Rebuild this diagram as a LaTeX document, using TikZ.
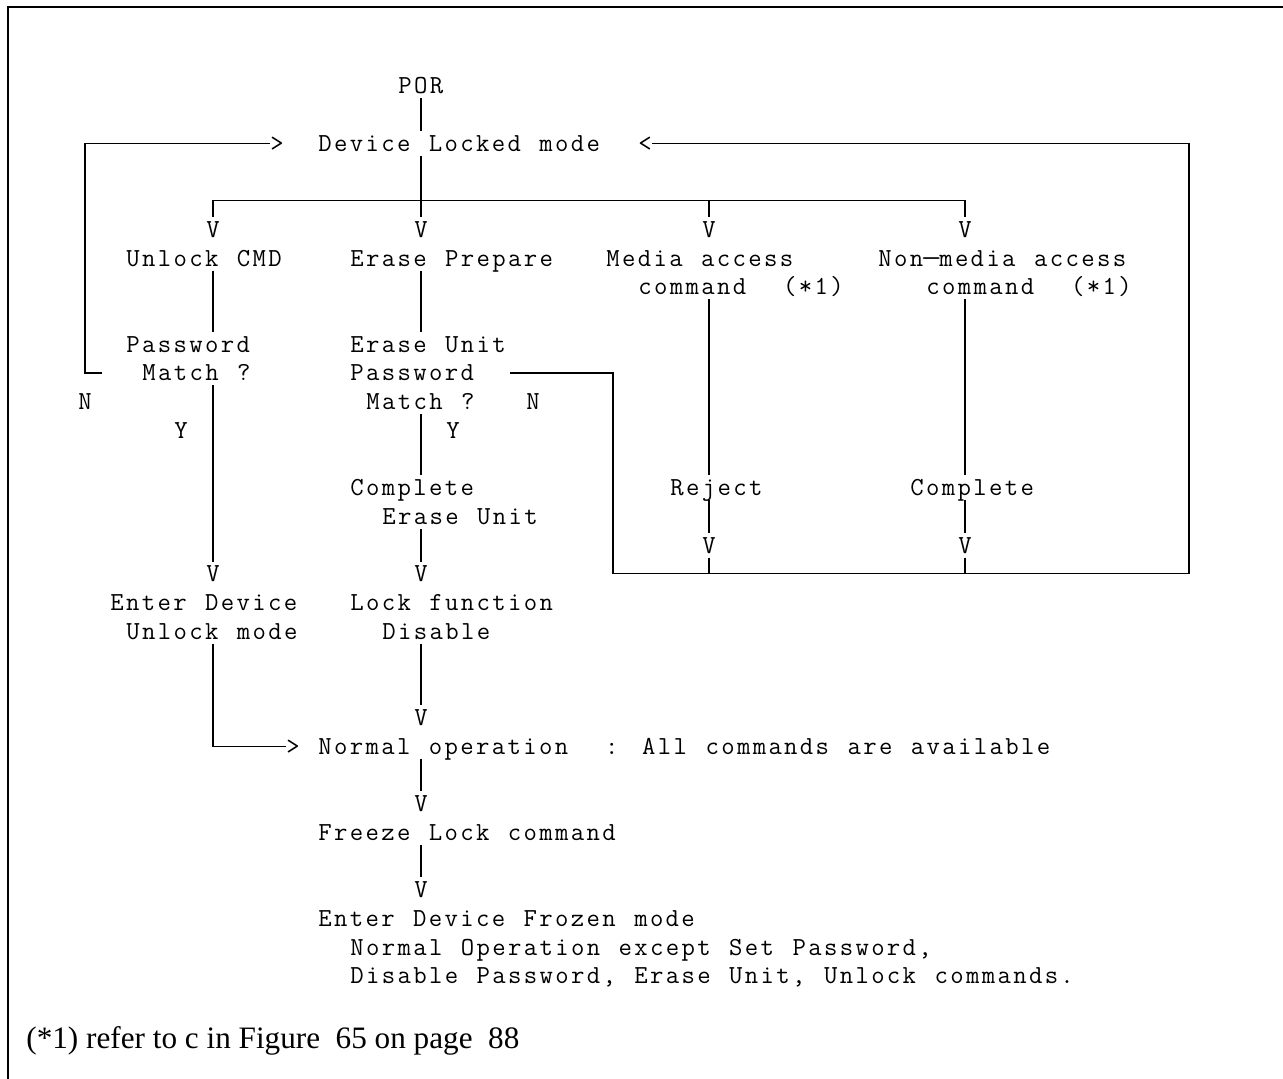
\documentclass[tikz,border=0pt]{standalone}
\usepackage{fontspec}
\newfontfamily\asc[LetterSpace=9.04,WordSpace=1.172]{Latin Modern Mono}
\newfontfamily\ser{Liberation Serif}
\newcommand{\longdash}{\makebox[8pt]{\scalebox{1.6}[1]{—}}}
\tikzset{
  txt/.style={anchor=base west, inner xsep=0pt, inner ysep=2pt, text height=8pt, text depth=0pt,
    font=\asc\fontsize{13pt}{14pt}\selectfont},
  conn/.style={line width=0.6pt},
  framel/.style={line width=1.2pt}
}
\begin{document}
\begin{tikzpicture}[x={(0.5pt,0)},y={(0,-0.5pt)}]
\useasboundingbox (0,0) rectangle (1283,1079);
\draw[framel] (1283,7) -- (8,7) -- (8,1079);
% column x of connectors
\coordinate (xL) at (85,0);
\coordinate (xA) at (213,0);
\coordinate (xB) at (421,0);
\coordinate (xE) at (613,0);
\coordinate (xC) at (709,0);
\coordinate (xD) at (965,0);
\coordinate (xR) at (1189,0);
\coordinate (bar) at (0,200.8);
\coordinate (bot) at (0,573.5);
\coordinate (stubA) at (102,373);
\coordinate (stubB) at (510,373);
% texts
\node[txt] (POR) at (398,94) {POR};
\node[txt] (DLM) at (318,151.4) {Device Locked mode};
\node[txt] (gtL) at (270,151.4) {>};
\node[txt] (ltR) at (638,151.4) {<};
\node[txt] (VA1) at (206,237.5) {V};
\node[txt] (VB1) at (414,237.5) {V};
\node[txt] (VC1) at (702,237.5) {V};
\node[txt] (VD1) at (958,237.5) {V};
\node[txt] (UCMD) at (126,266.2) {Unlock CMD};
\node[txt] (EPrep) at (350,266.2) {Erase Prepare};
\node[txt] (MAC) at (606,266.2) {Media access};
\node[txt] (NMAC) at (878,266.2) {Non\longdash media access};
\node[txt] (cmdC) at (638,294.9) {command~~(*1)};
\node[txt] (cmdD) at (926,294.9) {command~~(*1)};
\node[txt] (PwA) at (126,352.3) {Password};
\node[txt] (MatchA) at (142,381) {Match ?};
\node[txt] (NA) at (78,409.7) {N};
\node[txt] (YA) at (174,438.4) {Y};
\node[txt] (EUnit) at (350,352.3) {Erase Unit};
\node[txt] (PwB) at (350,381) {Password};
\node[txt] (MatchB) at (366,409.7) {Match ?};
\node[txt] (NB) at (526,409.7) {N};
\node[txt] (YB) at (446,438.4) {Y};
\node[txt] (CompB) at (350,495.8) {Complete};
\node[txt] (EUnit2) at (382,524.5) {Erase Unit};
\node[txt] (Reject) at (670,495.8) {Reject};
\node[txt] (CompD) at (910,495.8) {Complete};
\node[txt] (VC2) at (702,553.2) {V};
\node[txt] (VD2) at (958,553.2) {V};
\node[txt] (VA3) at (206,581.9) {V};
\node[txt] (VB3) at (414,581.9) {V};
\node[txt] (EDev) at (110,610.6) {Enter Device};
\node[txt] (UMode) at (126,639.3) {Unlock mode};
\node[txt] (LockF) at (350,610.6) {Lock function};
\node[txt] (Disab) at (382,639.3) {Disable};
\node[txt] (VB4) at (414,725.4) {V};
\node[txt] (gtN) at (286,754.1) {>};
\node[txt] (Normal) at (318,754.1) {Normal operation~~: All commands are available};
\node[txt] (VB5) at (414,811.5) {V};
\node[txt] (Freeze) at (318,840.2) {Freeze Lock command};
\node[txt] (VB6) at (414,897.6) {V};
\node[txt] (Frozen) at (318,926.3) {Enter Device Frozen mode};
\node[txt] (NOp) at (350,955) {Normal Operation except Set Password,};
\node[txt] (DisPw) at (350,983.7) {Disable Password, Erase Unit, Unlock commands.};
\node[anchor=base west, inner sep=0pt, font=\ser\fontsize{15.6pt}{18pt}\selectfont] (foot) at (26,1048)
  {(*1) refer to c in Figure\ \ 65 on page\ \ 88};
% connectors
\draw[conn] (POR.south -| xB) -- (DLM.north -| xB);
\draw[conn] (DLM.south -| xB) -- (VB1.north -| xB);
\draw[conn] (VA1.north -| xA) -- (xA |- bar) -- (xD |- bar) -- (VD1.north -| xD);
\draw[conn] (xC |- bar) -- (VC1.north -| xC);
\draw[conn] (stubA) -- (stubA -| xL) -- (xL |- gtL.west) -- (gtL.west);
\draw[conn] (ltR.east) -- (ltR.east -| xR) -- (xR |- bot) -- (xE |- bot) -- (xE |- stubB) -- (stubB);
% column A
\draw[conn] (UCMD.south -| xA) -- (PwA.north -| xA);
\draw[conn] (MatchA.south -| xA) -- (VA3.north -| xA);
\draw[conn] (UMode.south -| xA) -- (xA |- gtN.west) -- (gtN.west);
% column B
\draw[conn] (EPrep.south -| xB) -- (EUnit.north -| xB);
\draw[conn] (MatchB.south -| xB) -- (CompB.north -| xB);
\draw[conn] (EUnit2.south -| xB) -- (VB3.north -| xB);
\draw[conn] (Disab.south -| xB) -- (VB4.north -| xB);
\draw[conn] (Normal.south -| xB) -- (VB5.north -| xB);
\draw[conn] (Freeze.south -| xB) -- (VB6.north -| xB);
% column C
\draw[conn] (cmdC.south -| xC) -- (Reject.north -| xC);
\draw[conn] (Reject.south -| xC) -- (VC2.north -| xC);
\draw[conn] (VC2.south -| xC) -- (xC |- bot);
% column D
\draw[conn] (cmdD.south -| xD) -- (CompD.north -| xD);
\draw[conn] (CompD.south -| xD) -- (VD2.north -| xD);
\draw[conn] (VD2.south -| xD) -- (xD |- bot);
\end{tikzpicture}
\end{document}
